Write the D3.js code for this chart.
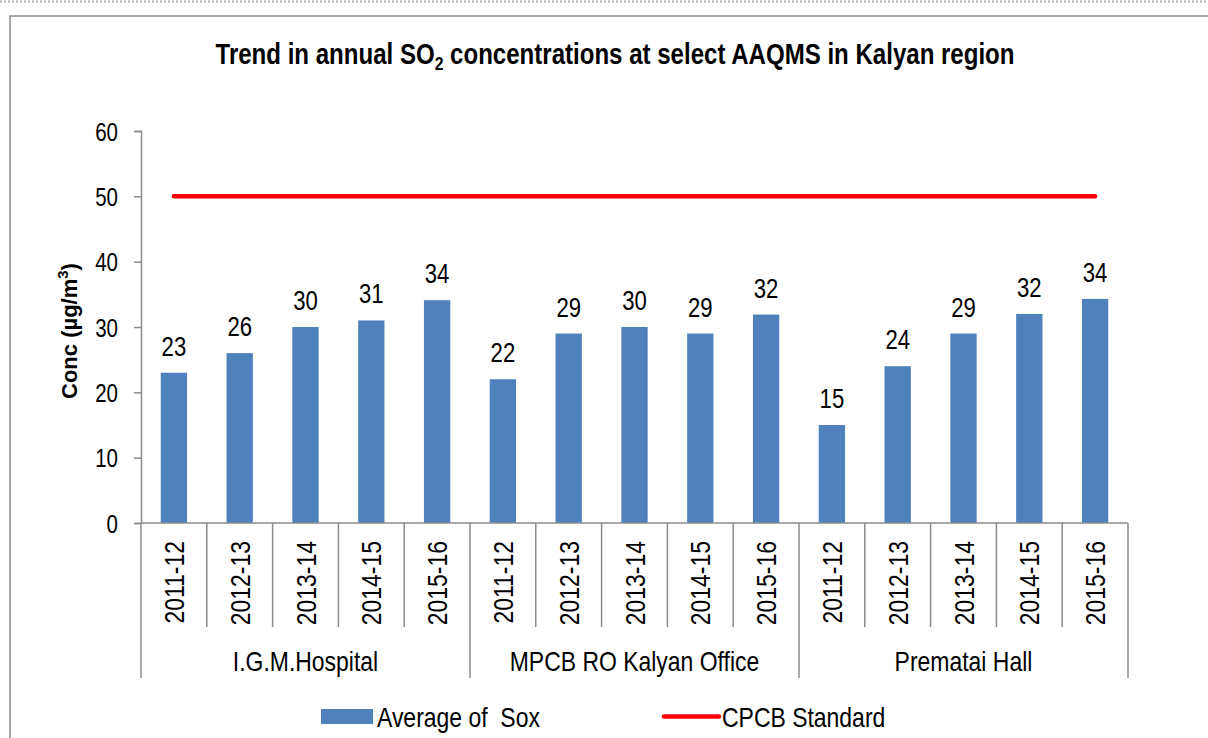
<!DOCTYPE html>
<html><head><meta charset="utf-8">
<script src="https://cdn.jsdelivr.net/npm/d3@7"></script>
<style>
html,body{margin:0;padding:0;background:#fff;}
svg{display:block;}
text{font-family:"Liberation Sans Narrow","Arial Narrow","Liberation Sans",Arial,sans-serif;fill:#000;}
</style></head>
<body>
<svg id="chart" width="1208" height="738"></svg>
<script>
const stations = ["I.G.M.Hospital", "MPCB RO Kalyan Office", "Prematai Hall"];
const years = ["2011-12", "2012-13", "2013-14", "2014-15", "2015-16"];
const igmValues = [23, 26, 30, 31, 34.1];
const mpcbValues = [22, 29, 30, 29, 31.9];
const prematValues = [15, 24, 29, 32, 34.3];
const cpcbStandard = 50;
const yTicks = [0, 10, 20, 30, 40, 50, 60];

const seriesByStation = [igmValues, mpcbValues, prematValues];
const rows = [];
stations.forEach((s, si) => years.forEach((yr, yi) => rows.push({key: s + "|" + yr, station: s, year: yr, value: seriesByStation[si][yi]})));

const svg = d3.select("#chart");
const SX = 0.82; // horizontal condensing to emulate a narrow face
const AX = "#8c8c8c";

// helper: condensed text placed at (x,y) with optional rotation
function ntext(parent, x, y, rot, size, anchor, str) {
  const g = parent.append("g").attr("transform", `translate(${x},${y}) rotate(${rot}) scale(${SX},1)`);
  return g.append("text").attr("text-anchor", anchor).attr("font-size", size).text(str);
}

// outer decorations
svg.append("line").attr("x1", 0).attr("x2", 1208).attr("y1", 1.5).attr("y2", 1.5)
  .attr("stroke", "#b4b4b4").attr("stroke-width", 2).attr("stroke-dasharray", "2,2");
svg.append("rect").attr("x", 10).attr("y", 16).attr("width", 1220).attr("height", 760)
  .attr("fill", "none").attr("stroke", AX).attr("stroke-width", 1.5);

const pL = 141, pR = 1128, pT = 131, pB = 523;
const x = d3.scaleBand().domain(rows.map(d => d.key)).range([pL, pR]).paddingInner(0.6).paddingOuter(0.3);
const xc = d3.scaleBand().domain(rows.map(d => d.key)).range([pL, pR]);
const y = d3.scaleLinear().domain([0, 60]).range([pB, pT]);

// title
const tg = svg.append("g").attr("transform", `translate(615,64) scale(0.83,1)`);
const title = tg.append("text").attr("text-anchor", "middle").attr("font-weight", "bold").attr("font-size", 29);
title.append("tspan").text("Trend in annual SO");
title.append("tspan").attr("font-size", 19).attr("dy", 6).text("2");
title.append("tspan").attr("dy", -6).text(" concentrations at select AAQMS in Kalyan region");

// y axis
const yAxis = svg.append("g").attr("transform", `translate(${pL},0)`)
  .call(d3.axisLeft(y).tickValues(yTicks).tickSize(7).tickPadding(6).tickFormat(d3.format("d")));
yAxis.select(".domain").attr("stroke", AX).attr("stroke-width", 1.5);
yAxis.selectAll(".tick line").attr("stroke", AX).attr("stroke-width", 1.5);
yAxis.selectAll(".tick text").attr("font-size", 25).attr("dy", "0.36em")
  .attr("x", -23 / SX).attr("transform", `scale(${SX},1)`).attr("fill", "#000")
  .style("font-family", '"Liberation Sans","Arial",sans-serif');

// y title
const yt = svg.append("text").attr("transform", `translate(77,331) rotate(-90)`)
  .attr("text-anchor", "middle").attr("font-weight", "bold").attr("font-size", 22);
yt.append("tspan").text("Conc (µg/m");
yt.append("tspan").attr("font-size", 15).attr("dy", -9).text("3");
yt.append("tspan").attr("dy", 9).text(")");

// bars
svg.append("g").selectAll("rect").data(rows).join("rect")
  .attr("x", d => x(d.key)).attr("width", x.bandwidth())
  .attr("y", d => y(d.value)).attr("height", d => y(0) - y(d.value))
  .attr("fill", "#4f81bd");

// value labels
const vl = svg.append("g");
rows.forEach(d => ntext(vl, xc(d.key) + xc.bandwidth() / 2, y(d.value) - 17, 0, 27, "middle", d3.format(".0f")(d.value)));

// CPCB line
const line = d3.line().x(d => xc(d.key) + xc.bandwidth() / 2).y(() => y(cpcbStandard));
svg.append("path").datum(rows).attr("d", line).attr("fill", "none")
  .attr("stroke", "#ff0000").attr("stroke-width", 4.5).attr("stroke-linecap", "round");

// x axis baseline
svg.append("line").attr("x1", pL).attr("x2", pR).attr("y1", pB).attr("y2", pB)
  .attr("stroke", AX).attr("stroke-width", 1.5);

// category separators
const boundaries = d3.range(rows.length + 1).map(i => pL + i * xc.step());
svg.append("g").selectAll("line").data(boundaries).join("line")
  .attr("x1", d => d).attr("x2", d => d)
  .attr("y1", pB).attr("y2", (d, i) => (i % years.length === 0) ? 678 : 627)
  .attr("stroke", AX).attr("stroke-width", 1.5);

// year labels
const yl = svg.append("g");
rows.forEach(d => ntext(yl, xc(d.key) + xc.bandwidth() / 2 + 10, 541, -90, 28, "end", d.year));

// station labels
const groupW = xc.step() * years.length;
const sl = svg.append("g");
stations.forEach((s, i) => ntext(sl, pL + groupW * (i + 0.5), 671, 0, 28, "middle", s));

// legend
const lg = svg.append("g");
lg.append("rect").attr("x", 321).attr("y", 709).attr("width", 52).attr("height", 15).attr("fill", "#4f81bd");
ntext(lg, 377, 727, 0, 28, "start", "Average of  Sox").attr("xml:space", "preserve").style("white-space", "pre");
lg.append("line").attr("x1", 664).attr("x2", 719).attr("y1", 716.5).attr("y2", 716.5)
  .attr("stroke", "#ff0000").attr("stroke-width", 4.5).attr("stroke-linecap", "round");
ntext(lg, 722, 727, 0, 28, "start", "CPCB Standard");
</script>
</body></html>
